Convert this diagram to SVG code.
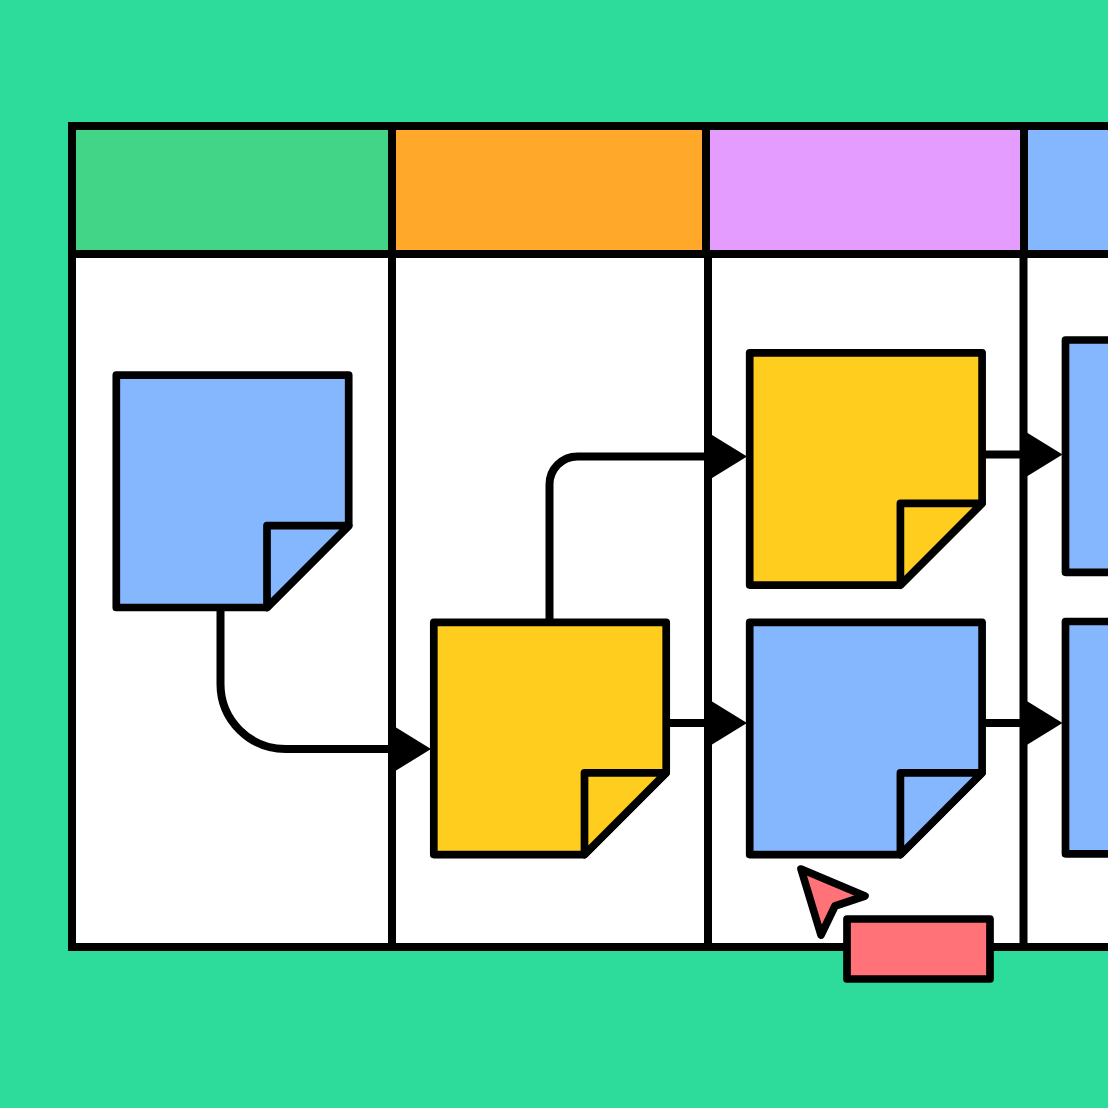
<svg xmlns="http://www.w3.org/2000/svg" xmlns:xlink="http://www.w3.org/1999/xlink" width="1108" height="1108" viewBox="0 0 1108 1108">
<style>
.s{stroke:#000;stroke-width:7.700;stroke-linejoin:round;stroke-linecap:butt}
.c{fill:none;stroke:#000;stroke-width:8}
.blue{fill:#85B7FF}.yellow{fill:#FFCD1D}.red{fill:#FF7378}
</style>
<defs>
<g id="note-shape">
<path d="M0 0H232.400V150.500L150.700 232.300H0Z"/>
<path d="M150.700 232.300V150.500H232.400Z"/>
</g>
<path id="arrow" d="M0 -24L39 0L0 24Z" fill="#000"/>
</defs>
<rect width="1108" height="1108" fill="#2DDB9A"/>
<g id="board">
<rect x="72" y="126" width="1050" height="821" fill="#fff"/>
<rect x="72" y="126" width="320" height="128" fill="#42D587"/>
<rect x="392" y="126" width="314" height="128" fill="#FFA829"/>
<rect x="706" y="126" width="318" height="128" fill="#E59CFF"/>
<rect x="1024" y="126" width="98" height="128" fill="#85B7FF"/>
<path class="c" d="M1122 126H72V947H1122M72 254H1122M392 126V947M706 126V254M708 254V947M1024 126V254M1023.500 254V947"/>
</g>
<g id="connectors">
<path class="c" d="M220.500 607V684A65 65 0 0 0 285.500 749H392"/>
<path class="c" d="M549.500 622V484.500A28 28 0 0 1 577.500 456.500H708"/>
<path class="c" d="M666 723H708M982 454.500H1023.500M982 723H1023.500"/>
<use xlink:href="#arrow" href="#arrow" x="392" y="749"/>
<use xlink:href="#arrow" href="#arrow" x="708" y="456.500"/>
<use xlink:href="#arrow" href="#arrow" x="708" y="723"/>
<use xlink:href="#arrow" href="#arrow" x="1023.500" y="454.500"/>
<use xlink:href="#arrow" href="#arrow" x="1023.500" y="723"/>
</g>
<g id="note-1" class="s blue"><use xlink:href="#note-shape" href="#note-shape" x="116.300" y="375.200"/></g>
<g id="note-2" class="s yellow"><use xlink:href="#note-shape" href="#note-shape" x="433.800" y="622.300"/></g>
<g id="note-3" class="s yellow"><use xlink:href="#note-shape" href="#note-shape" x="749.700" y="352.800"/></g>
<g id="note-4" class="s blue"><use xlink:href="#note-shape" href="#note-shape" x="749.700" y="622.300"/></g>
<g id="note-5" class="s blue"><use xlink:href="#note-shape" href="#note-shape" x="1065.500" y="340"/></g>
<g id="note-6" class="s blue"><use xlink:href="#note-shape" href="#note-shape" x="1065.500" y="621.500"/></g>
<g id="cursor" class="s red"><path d="M801 869L865 896L835 906L821 935Z"/></g>
<g id="cursor-label" class="s red"><rect x="847" y="919" width="143" height="60"/></g>
</svg>
